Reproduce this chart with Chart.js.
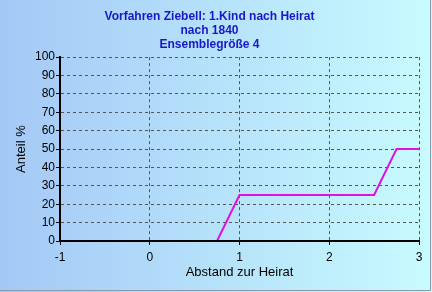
<!DOCTYPE html>
<html>
<head>
<meta charset="utf-8">
<script src="https://cdn.jsdelivr.net/npm/chart.js@4/dist/chart.umd.min.js"></script>
<style>
  html, body { margin: 0; padding: 0; background: #fff; }
  #wrap { width: 432px; height: 292px; }
</style>
</head>
<body>
<div id="wrap"><canvas id="myChart" width="432" height="292"></canvas></div>
<script>
var titleLines = ["Vorfahren Ziebell: 1.Kind nach Heirat", "nach 1840", "Ensemblegröße 4"];
var abstand = [-1, -0.75, -0.5, -0.25, 0, 0.25, 0.5, 0.75, 1, 1.25, 1.5, 1.75, 2, 2.25, 2.5, 2.75, 3];
var anteil  = [0, 0, 0, 0, 0, 0, 0, 0, 25, 25, 25, 25, 25, 25, 25, 50, 50];
var xTitle = "Abstand zur Heirat";
var yTitle = "Anteil %";

var points = abstand.map(function (x, i) { return { x: x, y: anteil[i] }; });

// background gradient + frame
var bgPlugin = {
    id: 'bg',
    beforeDraw: function (chart) {
        var c = chart.ctx, w = chart.width, h = chart.height;
        var g = c.createLinearGradient(0, 0, w, 0);
        g.addColorStop(0, '#a4c8f6');
        g.addColorStop(1, '#c8fbfe');
        c.save();
        c.fillStyle = g;
        c.fillRect(0, 0, w, h);
        c.strokeStyle = '#8a9aa8';
        c.lineWidth = 1;
        c.beginPath();
        c.moveTo(w - 1.5, 0); c.lineTo(w - 1.5, h - 1.5); c.lineTo(0, h - 1.5);
        c.stroke();
        c.restore();
    }
};

// redraw the black left/bottom axis over the data
var axisPlugin = {
    id: 'axes',
    afterDatasetsDraw: function (chart) {
        var c = chart.ctx, a = chart.chartArea;
        c.save();
        c.strokeStyle = '#000';
        c.lineWidth = 2;
        c.beginPath();
        c.moveTo(a.left, a.top);
        c.lineTo(a.left, a.bottom);
        c.lineTo(a.right, a.bottom);
        c.stroke();
        c.restore();
    }
};

var ctx = document.getElementById("myChart").getContext('2d');

var myChart = new Chart(ctx, {
    type: 'line',
    data: {
        datasets: [{
            data: points,
            borderColor: '#e010e0',
            borderWidth: 2,
            pointRadius: 0,
            tension: 0,
            fill: false
        }]
    },
    options: {
        responsive: false,
        animation: false,
        layout: { padding: { left: 0, right: 13, top: 0, bottom: 0 } },
        plugins: {
            legend: { display: false },
            tooltip: { enabled: false },
            title: {
                display: true,
                text: titleLines,
                color: '#1818c8',
                font: { family: 'Liberation Sans', size: 12, weight: 'bold', lineHeight: 1.17 },
                padding: { top: 10, bottom: 5 }
            }
        },
        scales: {
            x: {
                type: 'linear',
                min: -1,
                max: 3,
                ticks: {
                    stepSize: 1,
                    color: '#000',
                    padding: 5,
                    font: { family: 'Liberation Sans', size: 12 }
                },
                grid: {
                    color: '#555',
                    tickColor: '#000',
                    tickLength: 4,
                    lineWidth: 1
                },
                border: { display: true, color: '#000', width: 2, dash: [3, 3] },
                title: {
                    display: true,
                    text: xTitle,
                    color: '#000',
                    padding: { top: 0, bottom: 12 },
                    font: { family: 'Liberation Sans', size: 13 }
                },
                afterFit: function (s) { s.height = 51; }
            },
            y: {
                min: 0,
                max: 100,
                ticks: {
                    stepSize: 10,
                    color: '#000',
                    padding: 1,
                    font: { family: 'Liberation Sans', size: 12 }
                },
                grid: {
                    color: '#555',
                    tickColor: '#000',
                    tickLength: 4,
                    lineWidth: 1
                },
                border: { display: true, color: '#000', width: 2, dash: [3, 3] },
                title: {
                    display: true,
                    text: yTitle,
                    color: '#000',
                    padding: { top: 14, bottom: 0 },
                    font: { family: 'Liberation Sans', size: 13 }
                },
                afterFit: function (s) { s.width = 60; }
            }
        }
    },
    plugins: [bgPlugin, axisPlugin]
});
</script>
</body>
</html>
